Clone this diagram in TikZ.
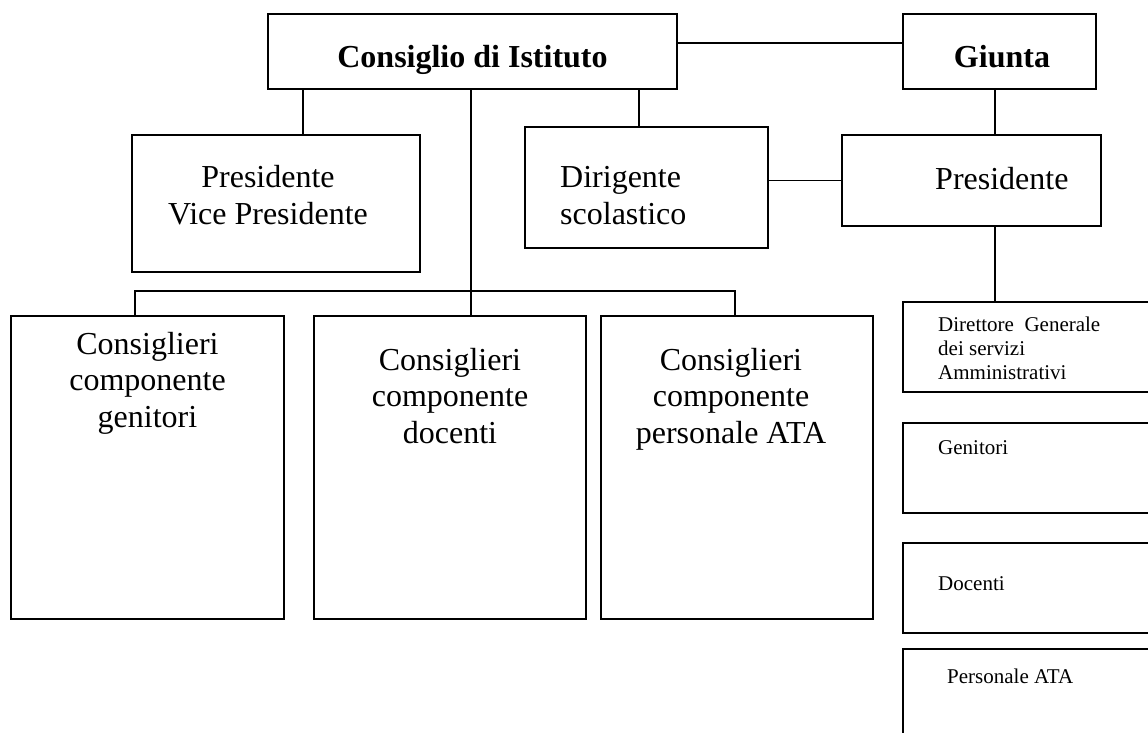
\documentclass[tikz,border=0pt]{standalone}
\usepackage{fontspec}
\setmainfont{Liberation Serif}
\begin{document}
\begin{tikzpicture}[x=1pt,y=-1pt,
  box/.style={draw, line width=2pt, rectangle, inner sep=0pt},
  conn/.style={line width=1.5pt},
  big/.style={font=\fontsize{32}{36.5}\selectfont, inner sep=0pt},
  bigb/.style={font=\fontsize{32}{36.5}\selectfont\bfseries, inner sep=0pt},
  small/.style={font=\fontsize{21}{24}\selectfont, inner sep=0pt, align=left}]
\useasboundingbox (0,0) rectangle (1148,733);
\clip (0,0) rectangle (1148,733);
% boxes
\node[box, minimum width=409pt, minimum height=75pt] (cons) at (472.5,51.5) {};
\node[box, minimum width=193pt, minimum height=75pt] (giunta) at (999.5,51.5) {};
\node[box, minimum width=288pt, minimum height=137pt] (pvp) at (276,203.5) {};
\node[box, minimum width=243pt, minimum height=121pt] (dir) at (646.5,187.5) {};
\node[box, minimum width=259pt, minimum height=91pt] (pres) at (971.5,180.5) {};
\node[box, minimum width=273pt, minimum height=303pt] (cg) at (147.5,467.5) {};
\node[box, minimum width=272pt, minimum height=303pt] (cd) at (450,467.5) {};
\node[box, minimum width=272pt, minimum height=303pt] (ca) at (737,467.5) {};
\node[box, minimum width=257pt, minimum height=90pt] (dsga) at (1031.5,347) {};
\node[box, minimum width=257pt, minimum height=90pt] (gen) at (1031.5,468) {};
\node[box, minimum width=257pt, minimum height=90pt] (doc) at (1031.5,588) {};
\node[box, minimum width=257pt, minimum height=111pt] (ata) at (1031.5,704.5) {};
% guides
\coordinate (xa) at (303,0);
\coordinate (xb) at (471,0);
\coordinate (xc) at (639,0);
\coordinate (xg) at (995,0);
\coordinate (yg) at (0,43);
\coordinate (busL) at (135,291);
\coordinate (busM) at (471,291);
\coordinate (busR) at (735,291);
% connectors
\draw[conn] (cons.east |- yg) -- (giunta.west |- yg);
\draw[conn] (cons.south -| xa) -- (pvp.north -| xa);
\draw[conn] (cons.south -| xb) -- (busM);
\draw[conn] (busL |- cg.north) -- (busL) -- (busR) -- (busR |- ca.north);
\draw[conn] (busM) -- (busM |- cd.north);
\draw[conn] (cons.south -| xc) -- (dir.north -| xc);
\draw[conn] (giunta.south -| xg) -- (pres.north -| xg);
\draw[conn] (pres.south -| xg) -- (dsga.north -| xg);
\draw[conn] (dir.east |- pres.west) -- (pres.west);
% texts (base anchor = baseline of the last line)
\node[bigb, anchor=base] (tcons) at (472.5,68) {Consiglio di Istituto};
\node[bigb, anchor=base] (tgiunta) at (1002,68) {Giunta};
\node[big, anchor=base, align=center] (tpvp) at (268,224) {Presidente\\Vice Presidente};
\node[big, anchor=base west, align=left] (tdir) at (560,224) {Dirigente\\scolastico};
\node[big, anchor=base west] (tpres) at (935,189) {Presidente};
\node[big, anchor=base, align=center] (tcg) at (147.5,427) {Consiglieri\\componente\\genitori};
\node[big, anchor=base, align=center] (tcd) at (450,443) {Consiglieri\\componente\\docenti};
\node[big, anchor=base, align=center] (tca) at (731,443) {Consiglieri\\componente\\personale ATA};
\node[small, anchor=base west] (tdsga) at (938,379) {Direttore\ \ Generale\\dei servizi\\Amministrativi};
\node[small, anchor=base west] (tgen) at (938,454) {Genitori};
\node[small, anchor=base west] (tdoc) at (938,590) {Docenti};
\node[small, anchor=base west] (tata) at (947,683) {Personale ATA};
\end{tikzpicture}
\end{document}
